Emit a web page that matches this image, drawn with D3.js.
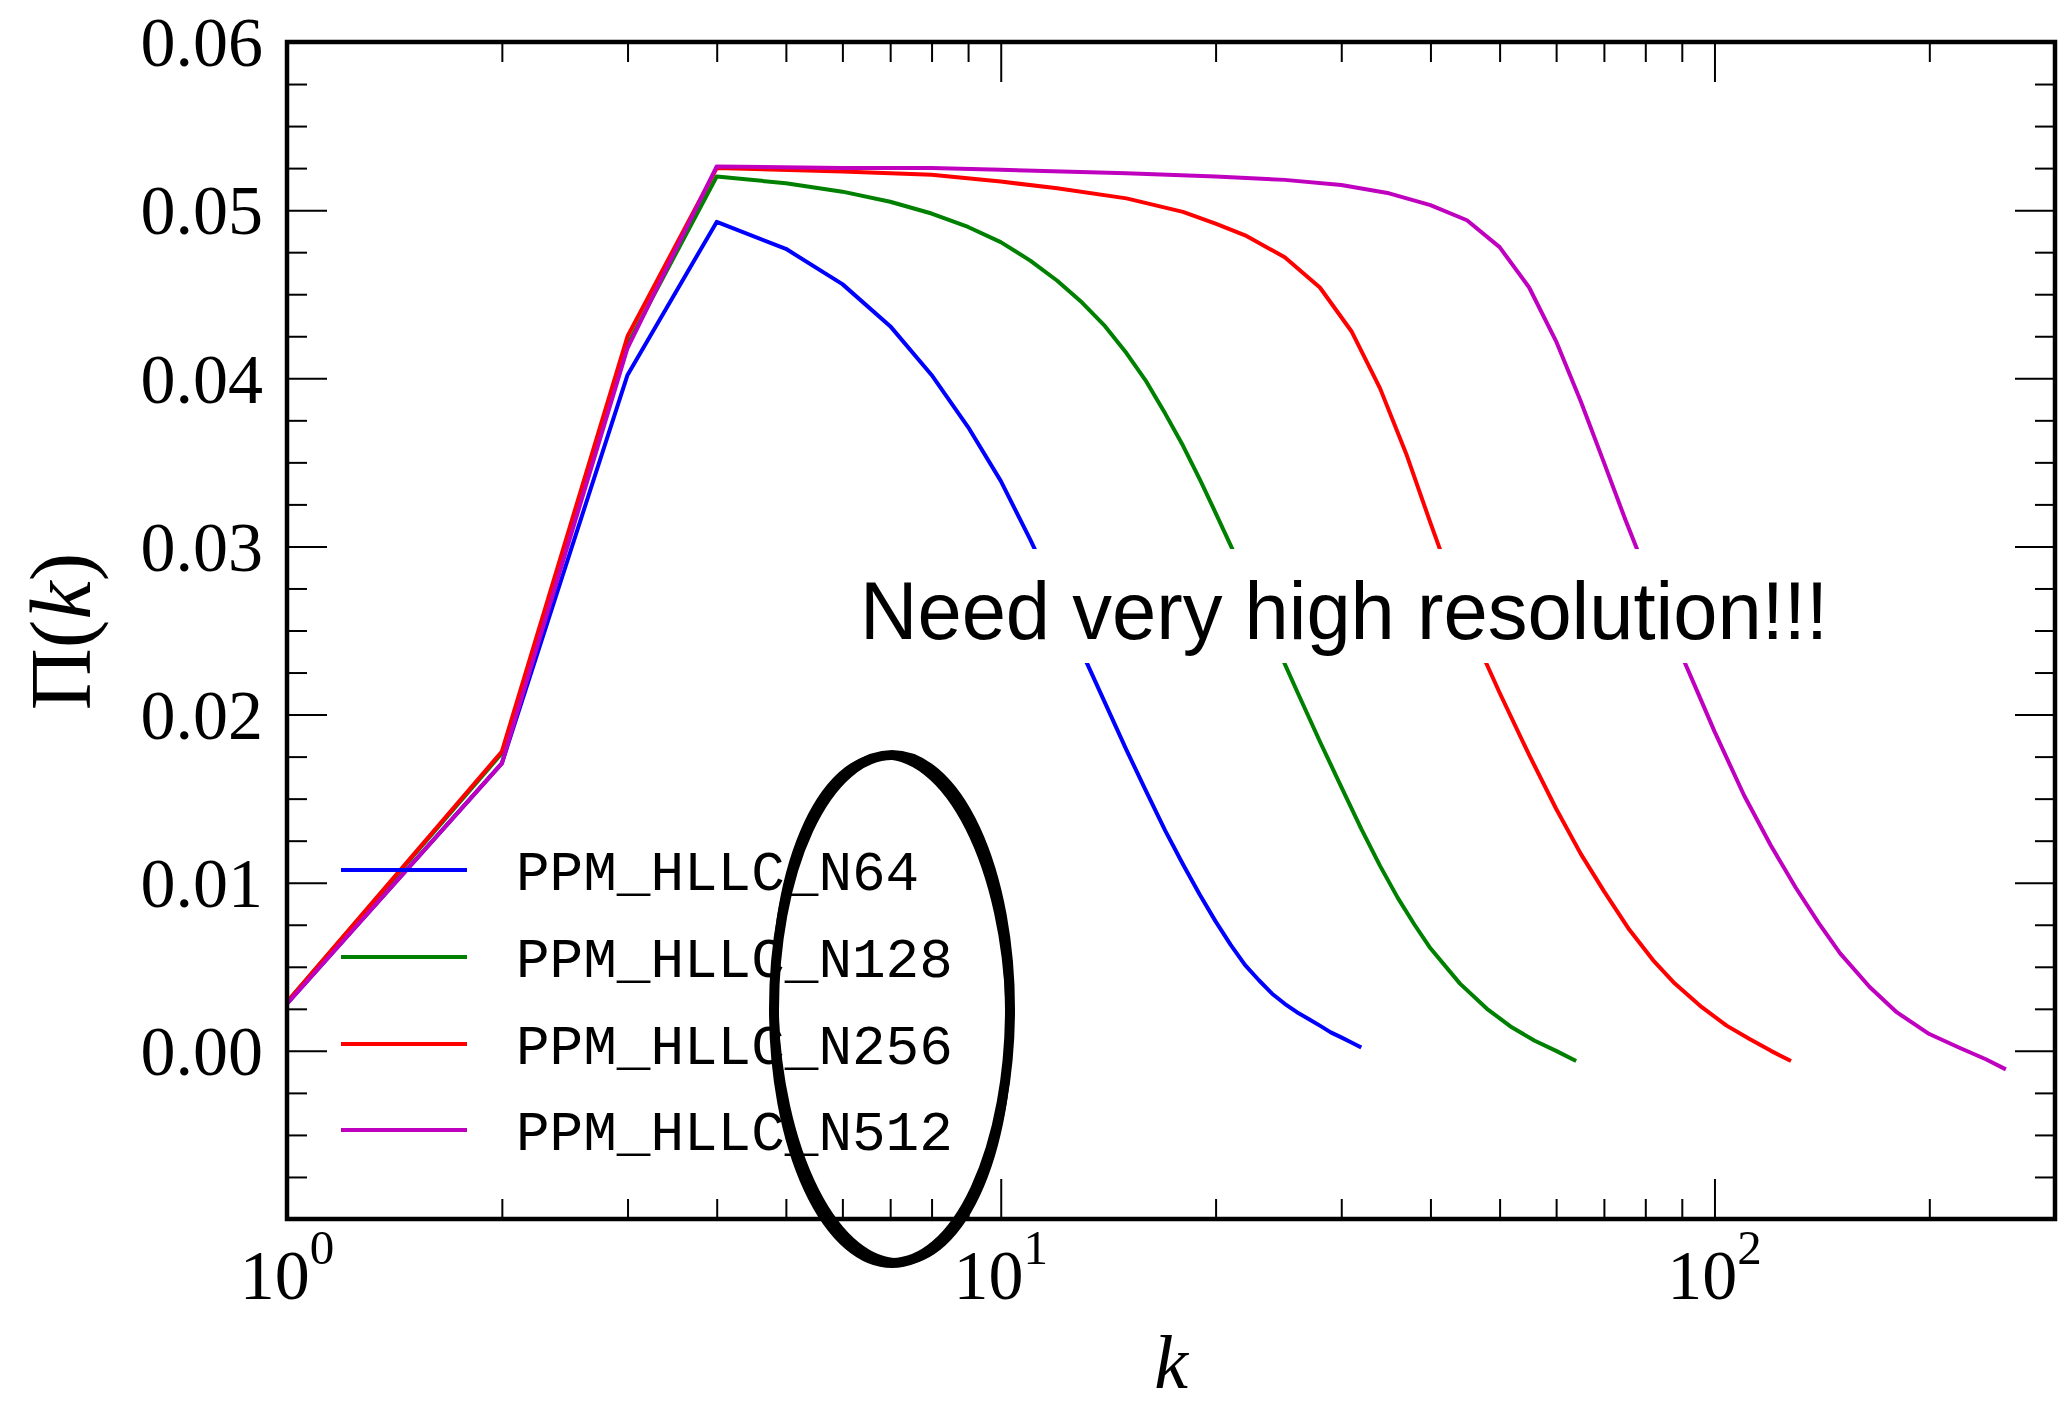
<!DOCTYPE html>
<html>
<head>
<meta charset="utf-8">
<script src="https://cdn.jsdelivr.net/npm/d3@7"></script>
<style>
  html, body { margin: 0; padding: 0; background: #fff; }
  svg { display: block; }
</style>
</head>
<body>
<svg id="chart" width="2058" height="1403"></svg>
<script>
// Energy flux spectrum Π(k) for four grid resolutions
const kN64   = [1,2,3,4,5,6,7,8,9,10,11,12,13,14,15,16,17,18,19,20,21,22,23,24,25,26,27,28,29,30,31,32];
const piN64  = [0.0028,0.0171,0.0402,0.0493,0.0477,0.0456,0.0431,0.0402,0.0371,0.0339,0.0304,0.0270,0.0237,0.0207,0.0179,0.0154,0.0131,0.0111,0.0093,0.0077,0.0063,0.0051,0.0042,0.0034,0.0028,0.0023,0.0019,0.0015,0.0011,0.0008,0.0005,0.0002];

const kN128  = [1,2,3,4,5,6,7,8,9,10,11,12,13,14,15,16,17,18,19,20,22,24,26,28,30,32,34,36,38,40,44,48,52,56,60,64];
const piN128 = [0.0029,0.0177,0.0420,0.0520,0.0516,0.0511,0.0505,0.0498,0.0490,0.0481,0.0470,0.0458,0.0445,0.0431,0.0415,0.0398,0.0379,0.0360,0.0340,0.0320,0.0282,0.0247,0.0214,0.0184,0.0157,0.0132,0.0110,0.0091,0.0075,0.0061,0.0040,0.0025,0.0014,0.0006,0.0000,-0.0006];

const kN256  = [1,2,3,4,6,8,10,12,15,18,20,22,25,28,31,34,37,40,43,46,50,55,60,65,70,76,82,88,96,104,112,120,128];
const piN256 = [0.0029,0.0178,0.0425,0.0525,0.0523,0.0521,0.0517,0.0513,0.0507,0.0499,0.0492,0.0485,0.0472,0.0454,0.0428,0.0394,0.0355,0.0314,0.0277,0.0247,0.0213,0.0176,0.0144,0.0117,0.0095,0.0072,0.0054,0.0040,0.0026,0.0015,0.0007,0.0000,-0.0006];

const kN512  = [1,2,3,4,6,8,10,15,20,25,30,35,40,45,50,55,60,65,70,75,80,85,90,95,100,110,120,130,140,150,165,180,200,220,240,256];
const piN512 = [0.0028,0.0171,0.0418,0.0526,0.0525,0.0525,0.0524,0.0522,0.0520,0.0518,0.0515,0.0510,0.0503,0.0494,0.0478,0.0454,0.0422,0.0386,0.0350,0.0316,0.0286,0.0259,0.0235,0.0212,0.0190,0.0152,0.0122,0.0097,0.0076,0.0058,0.0038,0.0023,0.0010,0.0002,-0.0005,-0.0011];

const seriesNames  = ["PPM_HLLC_N64", "PPM_HLLC_N128", "PPM_HLLC_N256", "PPM_HLLC_N512"];
const seriesColors = ["#0000ff", "#008000", "#ff0000", "#bf00bf"];
const seriesK      = [kN64, kN128, kN256, kN512];
const seriesPi     = [piN64, piN128, piN256, piN512];

const yMajorTicks = [0.00, 0.01, 0.02, 0.03, 0.04, 0.05, 0.06];
const yTickLabels = ["0.00", "0.01", "0.02", "0.03", "0.04", "0.05", "0.06"];
const xMajorTicks = [1, 10, 100];
const xTickExponents = ["0", "1", "2"];
const annotationText = "Need very high resolution!!!";

// ---- layout ----
const svg = d3.select("#chart");
const plotL = 287, plotR = 2055, plotT = 42, plotB = 1219;

const x = d3.scaleLog().domain([1, 300]).range([plotL, plotR]);
const y = d3.scaleLinear().domain([-0.01, 0.06]).range([plotB, plotT]);

const serif = "'Liberation Serif', 'DejaVu Serif', serif";

svg.append("defs").append("clipPath").attr("id", "plot-clip")
  .append("rect").attr("x", plotL).attr("y", plotT)
  .attr("width", plotR - plotL).attr("height", plotB - plotT);

// ---- curves ----
const line = d3.line().x(d => x(d[0])).y(d => y(d[1]));
const curves = svg.append("g").attr("clip-path", "url(#plot-clip)");
seriesNames.forEach((name, i) => {
  const pts = seriesK[i].map((k, j) => [k, seriesPi[i][j]]);
  curves.append("path")
    .datum(pts)
    .attr("d", line)
    .attr("fill", "none")
    .attr("stroke", seriesColors[i])
    .attr("stroke-width", 4)
    .attr("stroke-linejoin", "round");
});

// ---- ticks (inward, on all four sides) ----
const yMinor = d3.range(-0.0075, 0.06, 0.0025).filter(v => Math.abs(v * 100 - Math.round(v * 100)) > 1e-6);
const xMinor = [];
[1, 10, 100].forEach(dec => { for (let m = 2; m <= 9; m++) if (dec * m <= 300) xMinor.push(dec * m); });

function styleAxis(g) {
  g.select(".domain").remove();
  g.selectAll(".tick line").attr("stroke", "#000").attr("stroke-width", 2);
}

svg.append("g").attr("transform", `translate(0,${plotB})`)
  .call(d3.axisBottom(x).tickValues(xMajorTicks).tickSize(-40).tickFormat("")).call(styleAxis);
svg.append("g").attr("transform", `translate(0,${plotB})`)
  .call(d3.axisBottom(x).tickValues(xMinor).tickSize(-20).tickFormat("")).call(styleAxis);
svg.append("g").attr("transform", `translate(0,${plotT})`)
  .call(d3.axisTop(x).tickValues(xMajorTicks).tickSize(-40).tickFormat("")).call(styleAxis);
svg.append("g").attr("transform", `translate(0,${plotT})`)
  .call(d3.axisTop(x).tickValues(xMinor).tickSize(-20).tickFormat("")).call(styleAxis);

svg.append("g").attr("transform", `translate(${plotL},0)`)
  .call(d3.axisLeft(y).tickValues(yMajorTicks).tickSize(-40).tickPadding(24)
    .tickFormat((d, i) => yTickLabels[i]))
  .call(styleAxis)
  .call(g => g.selectAll("text").attr("font-family", serif).attr("font-size", 70)
    .attr("fill", "#000").attr("dy", "0.34em"));
svg.append("g").attr("transform", `translate(${plotL},0)`)
  .call(d3.axisLeft(y).tickValues(yMinor).tickSize(-20).tickFormat("")).call(styleAxis);
svg.append("g").attr("transform", `translate(${plotR},0)`)
  .call(d3.axisRight(y).tickValues(yMajorTicks).tickSize(-40).tickFormat("")).call(styleAxis);
svg.append("g").attr("transform", `translate(${plotR},0)`)
  .call(d3.axisRight(y).tickValues(yMinor).tickSize(-20).tickFormat("")).call(styleAxis);

// x tick labels as powers of ten
const xl = svg.append("g");
xMajorTicks.forEach((v, i) => {
  const t = xl.append("text")
    .attr("x", x(v)).attr("y", 1299)
    .attr("text-anchor", "middle")
    .attr("font-family", serif).attr("font-size", 70).attr("fill", "#000");
  t.append("tspan").text("10");
  t.append("tspan").attr("dy", -35).attr("font-size", 49).text(xTickExponents[i]);
});

// frame
svg.append("rect")
  .attr("x", plotL).attr("y", plotT)
  .attr("width", plotR - plotL).attr("height", plotB - plotT)
  .attr("fill", "none").attr("stroke", "#000").attr("stroke-width", 4.5);

// axis titles
svg.append("text")
  .attr("transform", `translate(90,${(plotT + plotB) / 2 + 1}) rotate(-90)`)
  .attr("text-anchor", "middle")
  .attr("font-family", serif).attr("font-size", 86).attr("fill", "#000")
  .call(t => {
    t.append("tspan").text("Π(");
    t.append("tspan").attr("font-style", "italic").text("k");
    t.append("tspan").text(")");
  });

svg.append("text")
  .attr("x", (plotL + plotR) / 2).attr("y", 1388)
  .attr("text-anchor", "middle")
  .attr("font-family", serif).attr("font-style", "italic")
  .attr("font-size", 76).attr("fill", "#000").text("k");

// legend
const lg = svg.append("g");
const legendY = [870, 957, 1044, 1130];
seriesNames.forEach((name, i) => {
  lg.append("line")
    .attr("x1", 341).attr("x2", 467)
    .attr("y1", legendY[i]).attr("y2", legendY[i])
    .attr("stroke", seriesColors[i]).attr("stroke-width", 4);
  lg.append("text")
    .attr("x", 516).attr("y", legendY[i] + 20)
    .attr("font-family", "'Liberation Mono', 'DejaVu Sans Mono', monospace")
    .attr("font-size", 56).attr("fill", "#000")
    .attr("textLength", 33.6 * name.length).attr("lengthAdjust", "spacing")
    .text(name);
});

// annotation with white box
svg.append("rect")
  .attr("x", 845).attr("y", 549).attr("width", 1000).attr("height", 114)
  .attr("fill", "#fff");
svg.append("text")
  .attr("x", 860).attr("y", 639)
  .attr("font-family", "'Liberation Sans', Arial, sans-serif")
  .attr("font-size", 82).attr("fill", "#000")
  .attr("textLength", 968).attr("lengthAdjust", "spacingAndGlyphs")
  .text(annotationText);

// hand-drawn ellipse around the legend labels
svg.append("ellipse")
  .attr("cx", 892).attr("cy", 1009).attr("rx", 118).attr("ry", 254)
  .attr("fill", "none").attr("stroke", "#000").attr("stroke-width", 10);
svg.append("ellipse")
  .attr("cx", 892).attr("cy", 1009).attr("rx", 117).attr("ry", 253)
  .attr("transform", "rotate(-2 892 1009)")
  .attr("fill", "none").attr("stroke", "#000").attr("stroke-width", 7);
</script>
</body>
</html>
